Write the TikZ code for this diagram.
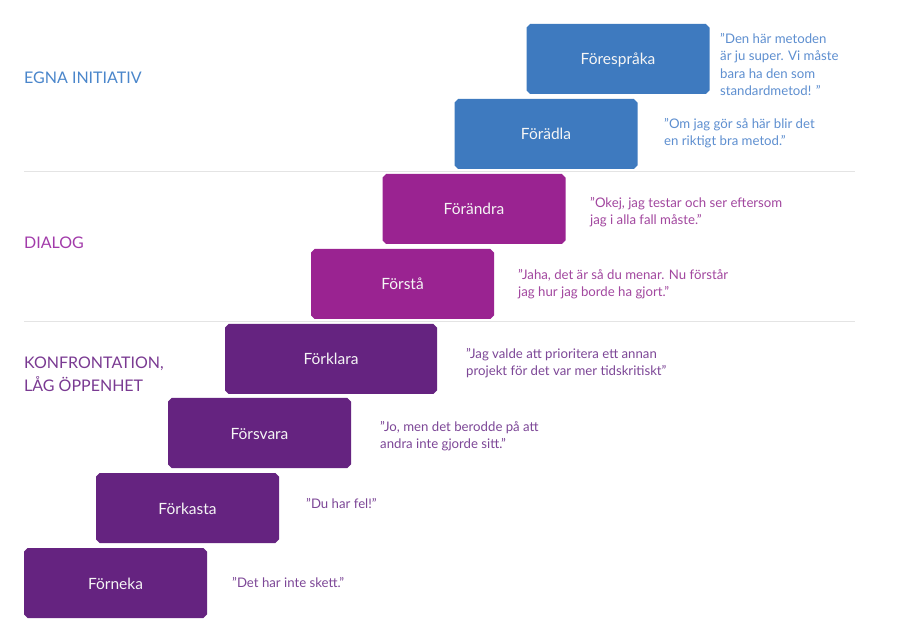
\documentclass[tikz,border=0pt]{standalone}
\usepackage{fontspec}
\setmainfont{Lato}
\usetikzlibrary{shapes.misc}
\definecolor{cblue}{HTML}{3E7ABF}
\definecolor{cmag}{HTML}{9A2391}
\definecolor{cpur}{HTML}{652380}
\definecolor{tblue}{HTML}{4A86CB}
\definecolor{qblue}{HTML}{5E8FD0}
\definecolor{tmag}{HTML}{A23BAA}
\definecolor{qmag}{HTML}{A2479F}
\definecolor{tpur}{HTML}{7A3A92}
\definecolor{qpur}{HTML}{7D4797}
\definecolor{sepc}{HTML}{E4E4E4}
\tikzset{
  stepbox/.style={chamfered rectangle, chamfered rectangle xsep=1.8pt, chamfered rectangle ysep=1.8pt, minimum width=183pt, minimum height=70pt, inner sep=0pt, text height=12pt, text depth=0pt, text=white!92!gray, font=\fontsize{15.5}{18}\selectfont},
  quote/.style={anchor=base west, align=left, inner sep=0pt, font=\fontsize{13.2}{17.5}\selectfont},
  lbl/.style={anchor=base west, align=left, inner sep=0pt, font=\fontsize{16}{24}\selectfont},
}
\begin{document}
\begin{tikzpicture}[x=1pt,y=-1pt]
\useasboundingbox (0,0) rectangle (903,620);
\fill[white] (0,0) rectangle (903,620);
% separators
\coordinate (s1a) at (24,171.5); \coordinate (s1b) at (855,171.5);
\coordinate (s2a) at (24,321.5); \coordinate (s2b) at (855,321.5);
\draw[sepc, line width=1.5pt] (s1a) -- (s1b);
\draw[sepc, line width=1.5pt] (s2a) -- (s2b);
% boxes
\node[stepbox, fill=cblue] (b1) at (618,59) {Förespråka};
\node[stepbox, fill=cblue] (b2) at (546,134) {Förädla};
\node[stepbox, fill=cmag] (b3) at (474,209) {Förändra};
\node[stepbox, fill=cmag] (b4) at (402.5,284) {Förstå};
\node[stepbox, fill=cpur, minimum width=212pt] (b5) at (331,359) {Förklara};
\node[stepbox, fill=cpur] (b6) at (259.5,433) {Försvara};
\node[stepbox, fill=cpur] (b7) at (187.5,508) {Förkasta};
\node[stepbox, fill=cpur] (b8) at (115.5,583) {Förneka};
% quotes (anchor = baseline of last line)
\node[quote, text=qblue] (q1) at (720,96) {"Den här metoden\\är ju super. Vi måste\\bara ha den som\\standardmetod! "};
\node[quote, text=qblue] (q2) at (664,146) {"Om jag gör så här blir det\\en riktigt bra metod."};
\node[quote, text=qmag] (q3) at (590,225) {"Okej, jag testar och ser eftersom\\jag i alla fall måste."};
\node[quote, text=qmag] (q4) at (518,297) {"Jaha, det är så du menar. Nu förstår\\jag hur jag borde ha gjort."};
\node[quote, text=qpur] (q5) at (466,376) {"Jag valde att prioritera ett annan\\projekt för det var mer tidskritiskt"};
\node[quote, text=qpur] (q6) at (380,449) {"Jo, men det berodde på att\\andra inte gjorde sitt."};
\node[quote, text=qpur] (q7) at (306,508) {"Du har fel!"};
\node[quote, text=qpur] (q8) at (232,587) {"Det har inte skett."};
% labels
\node[lbl, text=tblue] (l1) at (24,84) {EGNA INITIATIV};
\node[lbl, text=tmag] (l2) at (24,249) {DIALOG};
\node[lbl, text=tpur] (l3) at (24,392) {KONFRONTATION,\\LÅG ÖPPENHET};
\end{tikzpicture}
\end{document}
